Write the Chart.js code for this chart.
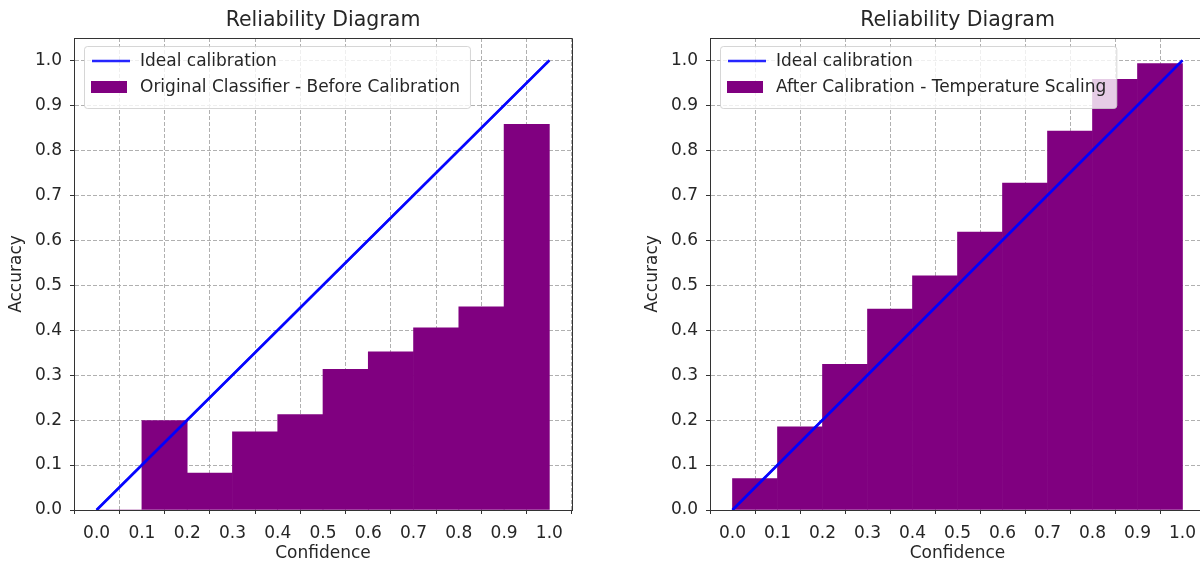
<!DOCTYPE html>
<html>
<head>
<meta charset="utf-8">
<script src="https://cdn.jsdelivr.net/npm/chart.js@4.4.1/dist/chart.umd.min.js"></script>
<style>
  html, body { margin: 0; padding: 0; background: #fff; overflow: hidden; width: 1200px; height: 562px; }
  .panel { position: absolute; top: 0; width: 600px; height: 562px; }
</style>
</head>
<body>
<div class="panel" style="left:0"><canvas id="antes" width="600" height="562"></canvas></div>
<div class="panel" style="left:636px"><canvas id="despues" width="600" height="562"></canvas></div>
<script>
// datos
const tickValues = [0, 0.1, 0.2, 0.3, 0.4, 0.5, 0.6, 0.7, 0.8, 0.9, 1.0]
const tickLabels = ['0.0', '0.1', '0.2', '0.3', '0.4', '0.5', '0.6', '0.7', '0.8', '0.9', '1.0']
const binCenters = [0.05, 0.15, 0.25, 0.35, 0.45, 0.55, 0.65, 0.75, 0.85, 0.95]
const accBefore = [0, 0.199, 0.082, 0.174, 0.212, 0.313, 0.352, 0.405, 0.452, 0.858]
const accAfter = [0.070, 0.185, 0.324, 0.447, 0.521, 0.618, 0.727, 0.843, 0.958, 0.993]
const idealX = [0, 1]
const idealY = [0, 1]

const FUENTE = 'DejaVu Sans'
const TEXTO = '#262626'
const EJE = '#333333'

// la grilla va sobre las barras, la diagonal sobre la grilla, luego marco y leyenda
const marcoYLeyenda = {
  id: 'marcoYLeyenda',
  afterDraw (chart) {
    const { ctx, chartArea: ca } = chart
    ctx.save()
    ctx.beginPath()
    ctx.rect(ca.left, ca.top, ca.right - ca.left, ca.bottom - ca.top)
    ctx.clip()
    chart.getDatasetMeta(0).controller.draw()
    ctx.restore()
    //
    ctx.save()
    ctx.strokeStyle = EJE
    ctx.lineWidth = 1
    ctx.beginPath()
    ctx.moveTo(Math.round(ca.left) + 0.5, Math.round(ca.top) + 0.5)
    ctx.lineTo(Math.round(ca.right) + 0.5, Math.round(ca.top) + 0.5)
    ctx.lineTo(Math.round(ca.right) + 0.5, Math.round(ca.bottom) + 0.5)
    ctx.stroke()
    //
    ctx.font = `17px "${FUENTE}"`
    const sets = chart.data.datasets
    let ancho = 0
    sets.forEach(ds => { ancho = Math.max(ancho, ctx.measureText(ds.label).width) })
    const x0 = ca.left + 10; const y0 = ca.top + 8
    const w = ancho + 66; const h = 62
    ctx.beginPath()
    ctx.roundRect(x0 + 0.5, y0 + 0.5, w, h, 3)
    ctx.fillStyle = 'rgba(255,255,255,0.8)'
    ctx.fill()
    ctx.strokeStyle = 'rgba(204,204,204,0.8)'
    ctx.stroke()
    sets.forEach((ds, i) => {
      const yc = ca.top + 23 + i * 26
      if (ds.type === 'line') {
        ctx.strokeStyle = ds.borderColor
        ctx.lineWidth = ds.borderWidth
        ctx.beginPath()
        ctx.moveTo(ca.left + 18, yc)
        ctx.lineTo(ca.left + 56, yc)
        ctx.stroke()
      } else {
        ctx.fillStyle = ds.backgroundColor
        ctx.fillRect(ca.left + 17, yc - 6, 36, 12)
      }
      ctx.fillStyle = TEXTO
      ctx.textBaseline = 'middle'
      ctx.textAlign = 'left'
      ctx.fillText(ds.label, ca.left + 66, yc + 1)
    })
    ctx.restore()
  }
}

function diagrama (id, etiqueta, valores, padDer) {
  const ctx = document.getElementById(id).getContext('2d')
  return new Chart(ctx, {
    type: 'bar',
    data: {
      datasets: [{
        type: 'line',
        label: 'Ideal calibration',
        data: idealX.map((x, i) => ({ x: x, y: idealY[i] })),
        borderColor: 'rgba(0,0,255,0.85)',
        borderWidth: 2.5,
        pointRadius: 0,
        fill: false,
        order: 0
      }, {
        type: 'bar',
        label: etiqueta,
        data: binCenters.map((x, i) => ({ x: x, y: valores[i] })),
        backgroundColor: '#800080',
        borderWidth: 0,
        barPercentage: 1,
        categoryPercentage: 1,
        order: 1
      }]
    },
    options: {
      responsive: false,
      animation: false,
      events: [],
      layout: { padding: { left: 0, right: padDer, top: 0, bottom: 0 } },
      plugins: {
        legend: { display: false },
        tooltip: { enabled: false },
        title: {
          display: true,
          text: 'Reliability Diagram',
          fullSize: false,
          color: TEXTO,
          font: { family: FUENTE, size: 20.5, weight: 'normal' },
          padding: { top: 8.7, bottom: 4.7 }
        }
      },
      scales: {
        x: {
          type: 'linear',
          min: -0.05,
          max: 1.05,
          offset: false,
          z: 1,
          afterBuildTicks: s => { s.ticks = tickValues.map(v => ({ value: v })) },
          afterFit: s => { s.height = 52 },
          ticks: {
            autoSkip: false,
            maxRotation: 0,
            padding: 9,
            color: TEXTO,
            font: { family: FUENTE, size: 17 },
            callback: (v, i) => tickLabels[i]
          },
          grid: { color: '#b0b0b0', lineWidth: 1, tickLength: 4, tickColor: EJE, tickWidth: 1 },
          border: { display: true, color: EJE, width: 1, dash: [4, 2] },
          title: { display: true, text: 'Confidence', color: TEXTO, font: { family: FUENTE, size: 17, lineHeight: 1.0 }, padding: { top: 0, bottom: 0 } }
        },
        y: {
          type: 'linear',
          min: 0,
          max: 1.05,
          z: 1,
          afterBuildTicks: s => { s.ticks = tickValues.map(v => ({ value: v })) },
          afterFit: s => { s.width = 74 },
          ticks: {
            autoSkip: false,
            padding: 8,
            color: TEXTO,
            font: { family: FUENTE, size: 17 },
            callback: (v, i) => tickLabels[i]
          },
          grid: { color: '#b0b0b0', lineWidth: 1, tickLength: 4, tickColor: EJE, tickWidth: 1 },
          border: { display: true, color: EJE, width: 1, dash: [4, 2] },
          title: { display: true, text: 'Accuracy', color: TEXTO, font: { family: FUENTE, size: 17 }, padding: { top: 6, bottom: 0 } }
        }
      }
    },
    plugins: [marcoYLeyenda]
  })
}

diagrama('antes', 'Original Classifier - Before Calibration', accBefore, 28)
diagrama('despues', 'After Calibration - Temperature Scaling', accAfter, 31)
</script>
</body>
</html>
